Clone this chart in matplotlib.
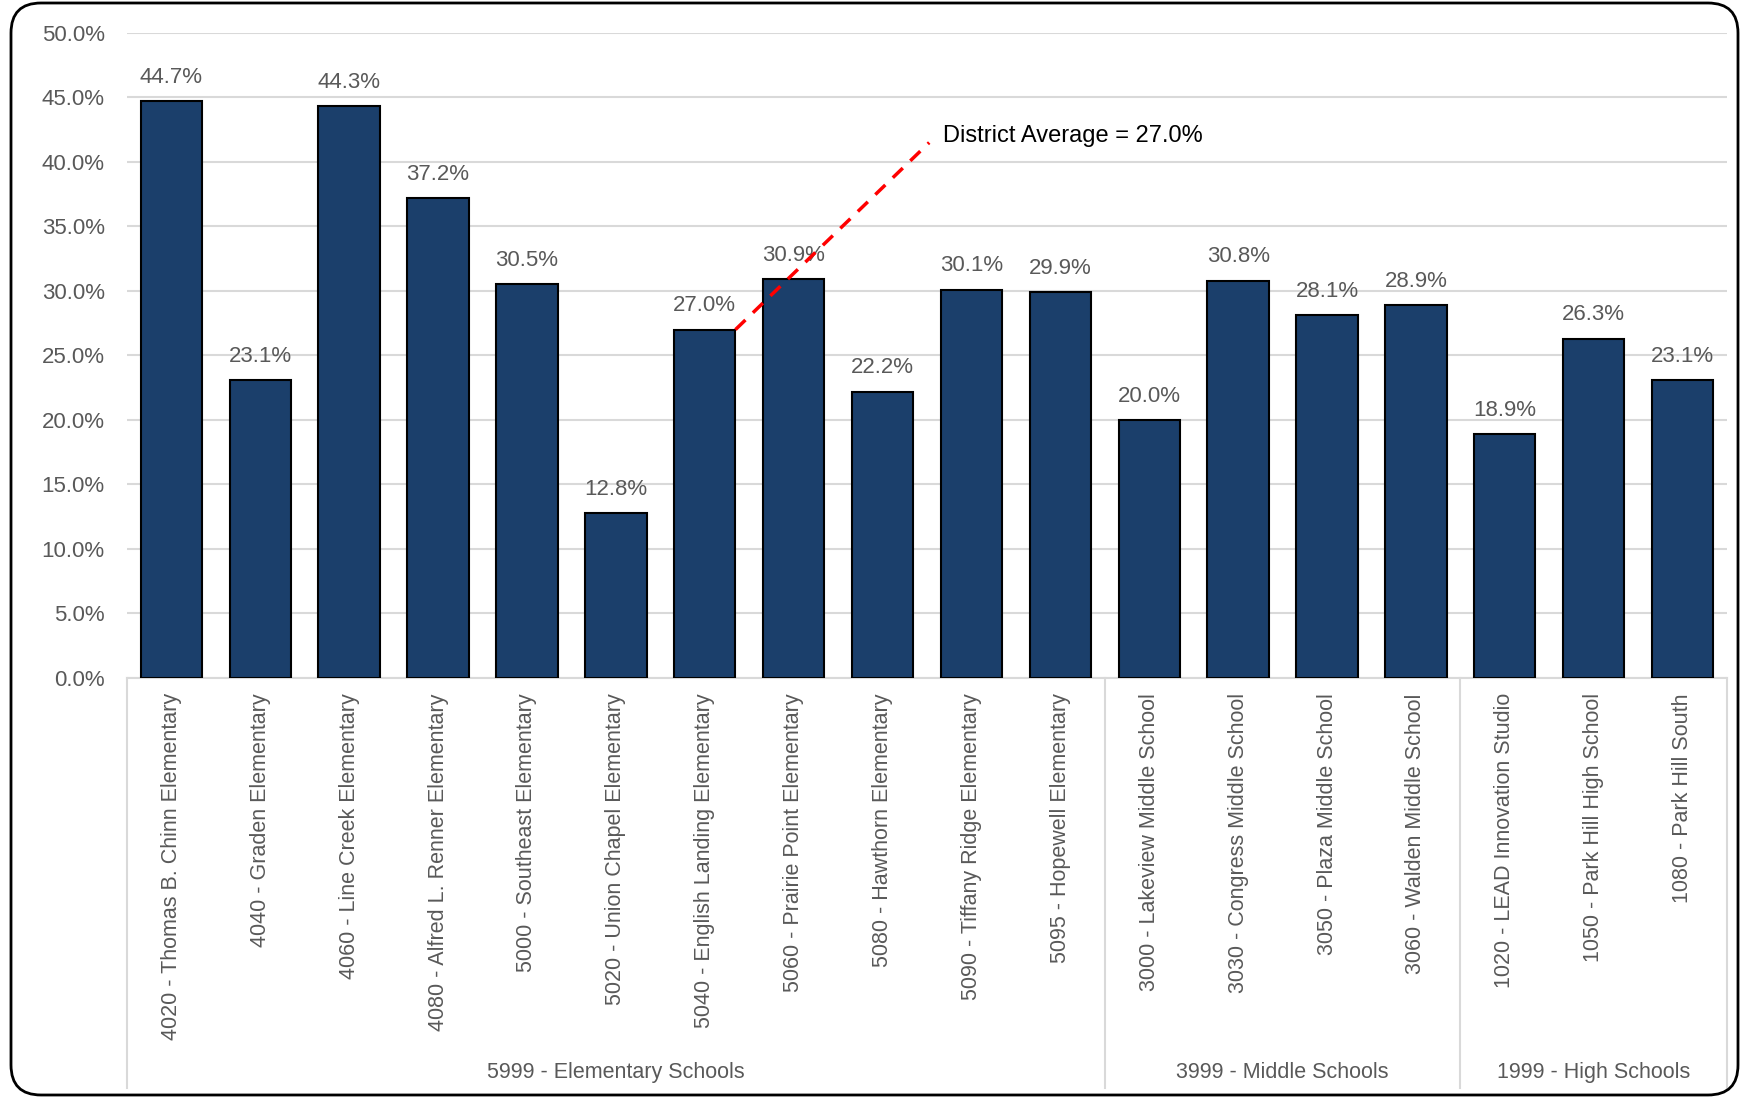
import matplotlib.pyplot as plt
import matplotlib.transforms as mtransforms
from matplotlib.patches import FancyBboxPatch
from matplotlib.ticker import PercentFormatter

# Data
schools = [
    "4020 - Thomas B. Chinn Elementary", "4040 - Graden Elementary",
    "4060 - Line Creek Elementary", "4080 - Alfred L. Renner Elementary",
    "5000 - Southeast Elementary", "5020 - Union Chapel Elementary",
    "5040 - English Landing Elementary", "5060 - Prairie Point Elementary",
    "5080 - Hawthorn Elementary", "5090 - Tiffany Ridge Elementary",
    "5095 - Hopewell Elementary", "3000 - Lakeview Middle School",
    "3030 - Congress Middle School", "3050 - Plaza Middle School",
    "3060 - Walden Middle School", "1020 - LEAD Innovation Studio",
    "1050 - Park Hill High School", "1080 - Park Hill South",
]
values = [44.7, 23.1, 44.3, 37.2, 30.5, 12.8, 27.0, 30.9, 22.2, 30.1, 29.9,
          20.0, 30.8, 28.1, 28.9, 18.9, 26.3, 23.1]
groups = ["5999 - Elementary Schools", "3999 - Middle Schools", "1999 - High Schools"]
group_sizes = [11, 4, 3]
district_avg = 27.0

bar_color = "#1B3F6B"
grey_txt = "#595959"
grid_col = "#D9D9D9"
font = ["Liberation Sans", "DejaVu Sans"]

fig = plt.figure(figsize=(17.41, 10.97), dpi=100)
ax = fig.add_axes([0.0729, 0.382, 0.9191, 0.588])

x = range(len(schools))
bars = ax.bar(x, values, width=0.69, color=bar_color, edgecolor="black",
              linewidth=1.5, zorder=3)

for xi, v in zip(x, values):
    ax.annotate(f"{v:.1f}%", (xi, v), xytext=(0, 9.5), textcoords="offset points",
                ha="center", va="bottom", fontsize=16, color=grey_txt, family=font)

ax.set_xlim(-0.5, len(schools) - 0.5)
ax.set_ylim(0, 50)
ax.set_yticks(range(0, 51, 5))
ax.yaxis.set_major_formatter(PercentFormatter(decimals=1))
ax.grid(axis="y", color=grid_col, linewidth=1.5, zorder=0)
for s in ["top", "right", "left"]:
    ax.spines[s].set_visible(False)
ax.spines["bottom"].set_color(grid_col)
ax.spines["bottom"].set_linewidth(1.5)
ax.tick_params(axis="y", length=0, pad=16, labelsize=16, labelcolor=grey_txt)
ax.tick_params(axis="x", length=0, pad=11, labelsize=15.5, labelcolor=grey_txt)
ax.set_xticks(list(x))
ax.set_xticklabels(schools, rotation=90, ha="center", va="top", family=font)
for lab in ax.get_yticklabels():
    lab.set_family(font)

# group separators and labels
trans = mtransforms.blended_transform_factory(ax.transData, ax.transAxes)
edges = [-0.5]
for n in group_sizes:
    edges.append(edges[-1] + n)
for e in edges:
    ax.plot([e, e], [0, -0.636], transform=trans, color=grid_col, lw=1.5, clip_on=False)
for name, a, b in zip(groups, edges[:-1], edges[1:]):
    ax.text((a + b) / 2, -0.611, name, transform=trans, ha="center", va="center",
            fontsize=15.5, color=grey_txt, family=font)

# district average callout
ax.plot([6.345, 8.525], [district_avg, 41.5], color="red", lw=2.5,
        linestyle=(0, (4, 3)), zorder=4)
ax.text(8.675, 42.0, f"District Average = {district_avg:.1f}%", ha="left",
        va="center", fontsize=17, color="black", family=font)

# rounded outer frame
frame = FancyBboxPatch((0.11, 0.02), 17.27, 10.92, boxstyle="round,pad=0,rounding_size=0.3",
                       transform=fig.dpi_scale_trans, fill=False, edgecolor="black",
                       linewidth=2)
fig.patches.append(frame)

fig.savefig("out.png", dpi=100)
